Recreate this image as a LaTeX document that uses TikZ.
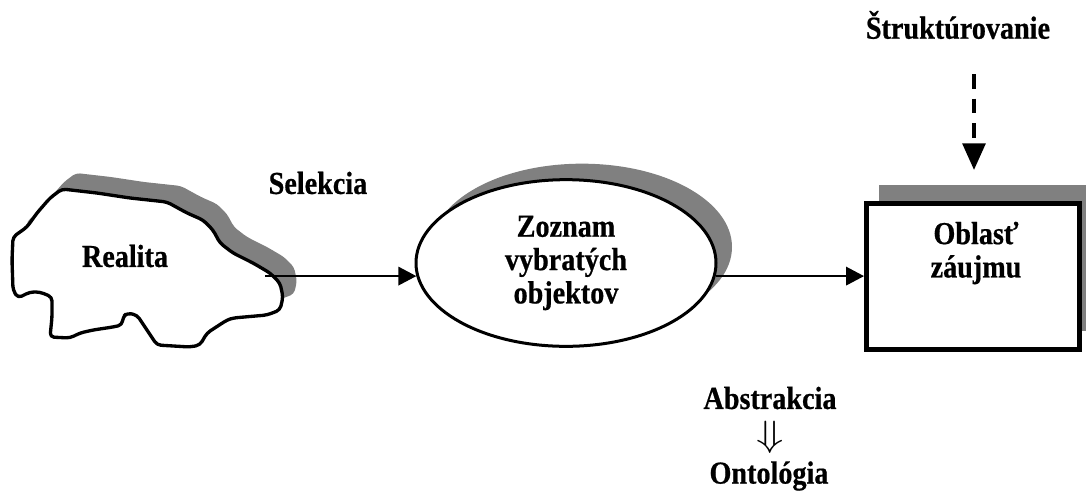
\documentclass[tikz,border=0pt]{standalone}
\usepackage{fontspec}
\setmainfont{Liberation Serif}[FakeStretch=0.88, BoldFeatures={FakeBold=0.6}]
\usetikzlibrary{arrows.meta,shapes.geometric,shadows}
\begin{document}
\begin{tikzpicture}[x=0.75pt,y=-0.75pt,
  lbl/.style={font=\bfseries\fontsize{24}{25}\selectfont, align=center, inner sep=0pt},
  conn/.style={line width=1.1pt, -{Triangle[length=13.5pt,width=14pt]}},
  gshadow/.style={drop shadow={shadow xshift=#1, shadow yshift=12pt, fill=gray, opacity=1}},
]
\useasboundingbox (0,0) rectangle (1086,490);

% Realita blob
\draw[line width=2.5pt, fill=white, line join=round, rounded corners=3pt, gshadow=10.5pt]
  (62,189) -- (97,193) -- (130,198) -- (167,202) -- (187,213) -- (203,220) -- (213,230) -- (220,243)
  -- (233,253) -- (253,263) -- (270,273) -- (280,283) -- (283,297) -- (280,310) -- (267,315) -- (233,318)
  -- (227,320) -- (207,333) -- (200,345) -- (190,347) -- (157,345) -- (147,330) -- (137,315) -- (127,313)
  -- (123,317) -- (122,325) -- (113,327) -- (93,330) -- (80,333) -- (70,338) -- (50,337) -- (52,317)
  -- (52,297) -- (40,292) -- (30,292) -- (18,298) -- (13,290) -- (12,260) -- (13,237) -- (27,227)
  -- (37,213) -- (50,198) -- cycle;
\node[lbl] (real) at (125,256) {Realita};
\coordinate (rexit) at (265,276);

\node[lbl] (sel) at (318,183) {Selekcia};

% ellipse
\node[ellipse, draw, line width=2.25pt, fill=white, minimum width=225pt, minimum height=125pt,
  gshadow=12pt, lbl] (zoz) at (566,263) {Zoznam\\vybratých\\objektov};

% rectangle
\node[draw, line width=3.75pt, fill=white, minimum width=159.75pt, minimum height=109.5pt,
  inner sep=0pt, drop shadow={shadow xshift=9.5pt, shadow yshift=14pt, fill=gray, opacity=1}]
  (obl) at (973,276.5) {};
\node[lbl] (oblt) at (976,253) {Oblasť\\záujmu};

% structuring
\node[lbl] (stru) at (958,25) {Štruktúrovanie};
\coordinate (dtop) at (974,74);
\coordinate (dbot) at (974,170);
\draw[line width=3pt, dash pattern=on 11pt off 7.5pt, -{Triangle[length=20pt,width=17pt]}] (dtop) -- (dbot);

% connectors
\draw[conn] (zoz.185 -| rexit) -- (zoz.185);
\draw[conn] (zoz.355) -- (zoz.355 -| obl.west);

% abstraction
\node[lbl] (abs) at (770,398) {Abstrakcia};
\node[inner sep=0pt] (dn) at (770,437) {\scalebox{1.35}[1.1]{\fontsize{24}{24}\selectfont$\Downarrow$}};
\node[lbl] (ont) at (769,476) {Ontológia};
\end{tikzpicture}
\end{document}
